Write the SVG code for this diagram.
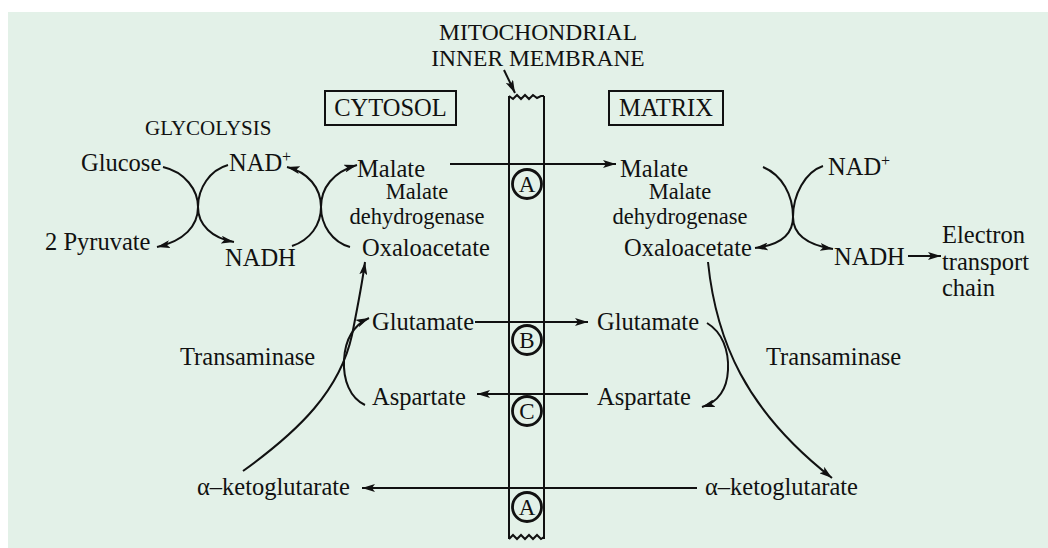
<svg xmlns="http://www.w3.org/2000/svg" width="1048" height="548" viewBox="0 0 1048 548">
<defs>
<marker id="ah" viewBox="0 0 13 8" refX="13" refY="4" markerWidth="13" markerHeight="8" markerUnits="userSpaceOnUse" orient="auto">
<path d="M0,0 L13,4 L0,8 L3,4 z" fill="#111"/>
</marker>
<style>
text{font-family:"Liberation Serif","Times New Roman",serif;font-size:24.5px;fill:#111}
.t{font-size:23.5px}
.g{font-size:21px}
.sup{font-size:16px}
.c{font-size:23px}
.e{font-size:22.5px}
.ln{fill:none;stroke:#111;stroke-width:2}
.ar{fill:none;stroke:#111;stroke-width:2;marker-end:url(#ah)}
.box{fill:none;stroke:#111;stroke-width:2}
.circ{fill:none;stroke:#111;stroke-width:2.8}
</style>
</defs>
<rect x="8" y="12" width="1040" height="536" fill="#e3f1e8"/>

<g id="title">
<text x="538" y="40" text-anchor="middle" class="t">MITOCHONDRIAL</text>
<text x="538" y="66" text-anchor="middle" class="t">INNER MEMBRANE</text>
</g>

<g id="membrane">
<path class="ln" d="M509,96 L513,99 L517,95 L521,99 L525,95 L529,99 L533,95 L537,98 L541,96 L544,96"/>
<line class="ln" x1="509" y1="96" x2="509" y2="539"/>
<line class="ln" x1="544" y1="96" x2="544" y2="539"/>
<path class="ln" d="M509,539 L513,535 L517,539 L521,535 L525,539 L529,535 L533,539 L537,535 L541,539 L544,537"/>
</g>

<g id="cytosol">
<rect class="box" x="325" y="91" width="131" height="34"/>
<text x="390.5" y="116" text-anchor="middle">CYTOSOL</text>
</g>
<g id="matrix">
<rect class="box" x="609" y="91" width="114" height="34"/>
<text x="666" y="116" text-anchor="middle">MATRIX</text>
</g>

<g id="glycolysis"><text x="145" y="135" class="g">GLYCOLYSIS</text></g>
<g id="glucose"><text x="81" y="171">Glucose</text></g>
<g id="pyruvate"><text x="45" y="250">2 Pyruvate</text></g>
<g id="nad-left"><text x="229" y="171">NAD<tspan class="sup" dy="-9">+</tspan></text></g>
<g id="nadh-left"><text x="225" y="266">NADH</text></g>
<g id="malate-c"><text x="357" y="177">Malate</text></g>
<g id="mdh-c"><text text-anchor="middle" class="e"><tspan x="417" y="199">Malate</tspan><tspan x="417" y="224">dehydrogenase</tspan></text></g>
<g id="oaa-c"><text x="362" y="256">Oxaloacetate</text></g>
<g id="glu-c"><text x="372" y="330">Glutamate</text></g>
<g id="asp-c"><text x="372" y="405">Aspartate</text></g>
<g id="akg-c"><text x="197" y="495">α–ketoglutarate</text></g>
<g id="trans-c"><text x="180" y="365">Transaminase</text></g>

<g id="malate-m"><text x="620" y="177">Malate</text></g>
<g id="mdh-m"><text text-anchor="middle" class="e"><tspan x="680" y="199">Malate</tspan><tspan x="680" y="224">dehydrogenase</tspan></text></g>
<g id="oaa-m"><text x="624" y="256">Oxaloacetate</text></g>
<g id="glu-m"><text x="597" y="330">Glutamate</text></g>
<g id="asp-m"><text x="597" y="405">Aspartate</text></g>
<g id="akg-m"><text x="705" y="495">α–ketoglutarate</text></g>
<g id="trans-m"><text x="766" y="365">Transaminase</text></g>
<g id="nad-m"><text x="828" y="175">NAD<tspan class="sup" dy="-9">+</tspan></text></g>
<g id="nadh-m"><text x="834" y="265">NADH</text></g>
<g id="etc"><text><tspan x="942" y="243">Electron</tspan><tspan x="942" y="270">transport</tspan><tspan x="942" y="296">chain</tspan></text></g>

<g id="transporters">
<circle class="circ" cx="527" cy="184" r="14.5" fill="#e3f1e8"/>
<text x="527" y="192" text-anchor="middle" class="c">A</text>
<circle class="circ" cx="527" cy="340" r="14.5" fill="#e3f1e8"/>
<text x="527" y="348" text-anchor="middle" class="c">B</text>
<circle class="circ" cx="527" cy="411" r="14.5" fill="#e3f1e8"/>
<text x="527" y="419" text-anchor="middle" class="c">C</text>
<circle class="circ" cx="527" cy="507" r="14.5" fill="#e3f1e8"/>
<text x="527" y="515" text-anchor="middle" class="c">A</text>
</g>

<g id="connectors">
<path class="ar" d="M504,70 L515,93"/>
<path class="ar" d="M163,167 C185,172 198,190 198,207 C198,226 184,241 157,247"/>
<path class="ar" d="M228,165 C210,170 198,188 198,207 C198,225 212,238 234,242"/>
<path class="ar" d="M292,246 C310,240 321,225 321,207 C321,188 308,172 287,167"/>
<path class="ar" d="M350,247 C332,242 321,225 321,207 C321,188 333,172 357,165"/>
<path class="ar" d="M763,167 C782,175 793,195 793,217 C793,235 780,245 755,248"/>
<path class="ar" d="M823,166 C805,172 793,195 793,217 C793,235 808,245 833,249"/>
<path class="ar" d="M908,256 L941,256"/>
<path class="ar" d="M450,164 L616,164"/>
<path class="ar" d="M475,322 L588,322"/>
<path class="ar" d="M588,394 L477,394"/>
<path class="ar" d="M697,488 L362,488"/>
<path class="ar" d="M243,471 C300,430 340,390 352,335 C358,305 362,285 365,262"/>
<path class="ar" d="M365,405 C350,398 343,380 344,360 C345,340 352,326 369,318"/>
<path class="ar" d="M708,262 C716,340 745,410 832,478"/>
<path class="ar" d="M707,323 C722,332 729,350 728,370 C727,390 718,402 702,407"/>
</g>
</svg>
